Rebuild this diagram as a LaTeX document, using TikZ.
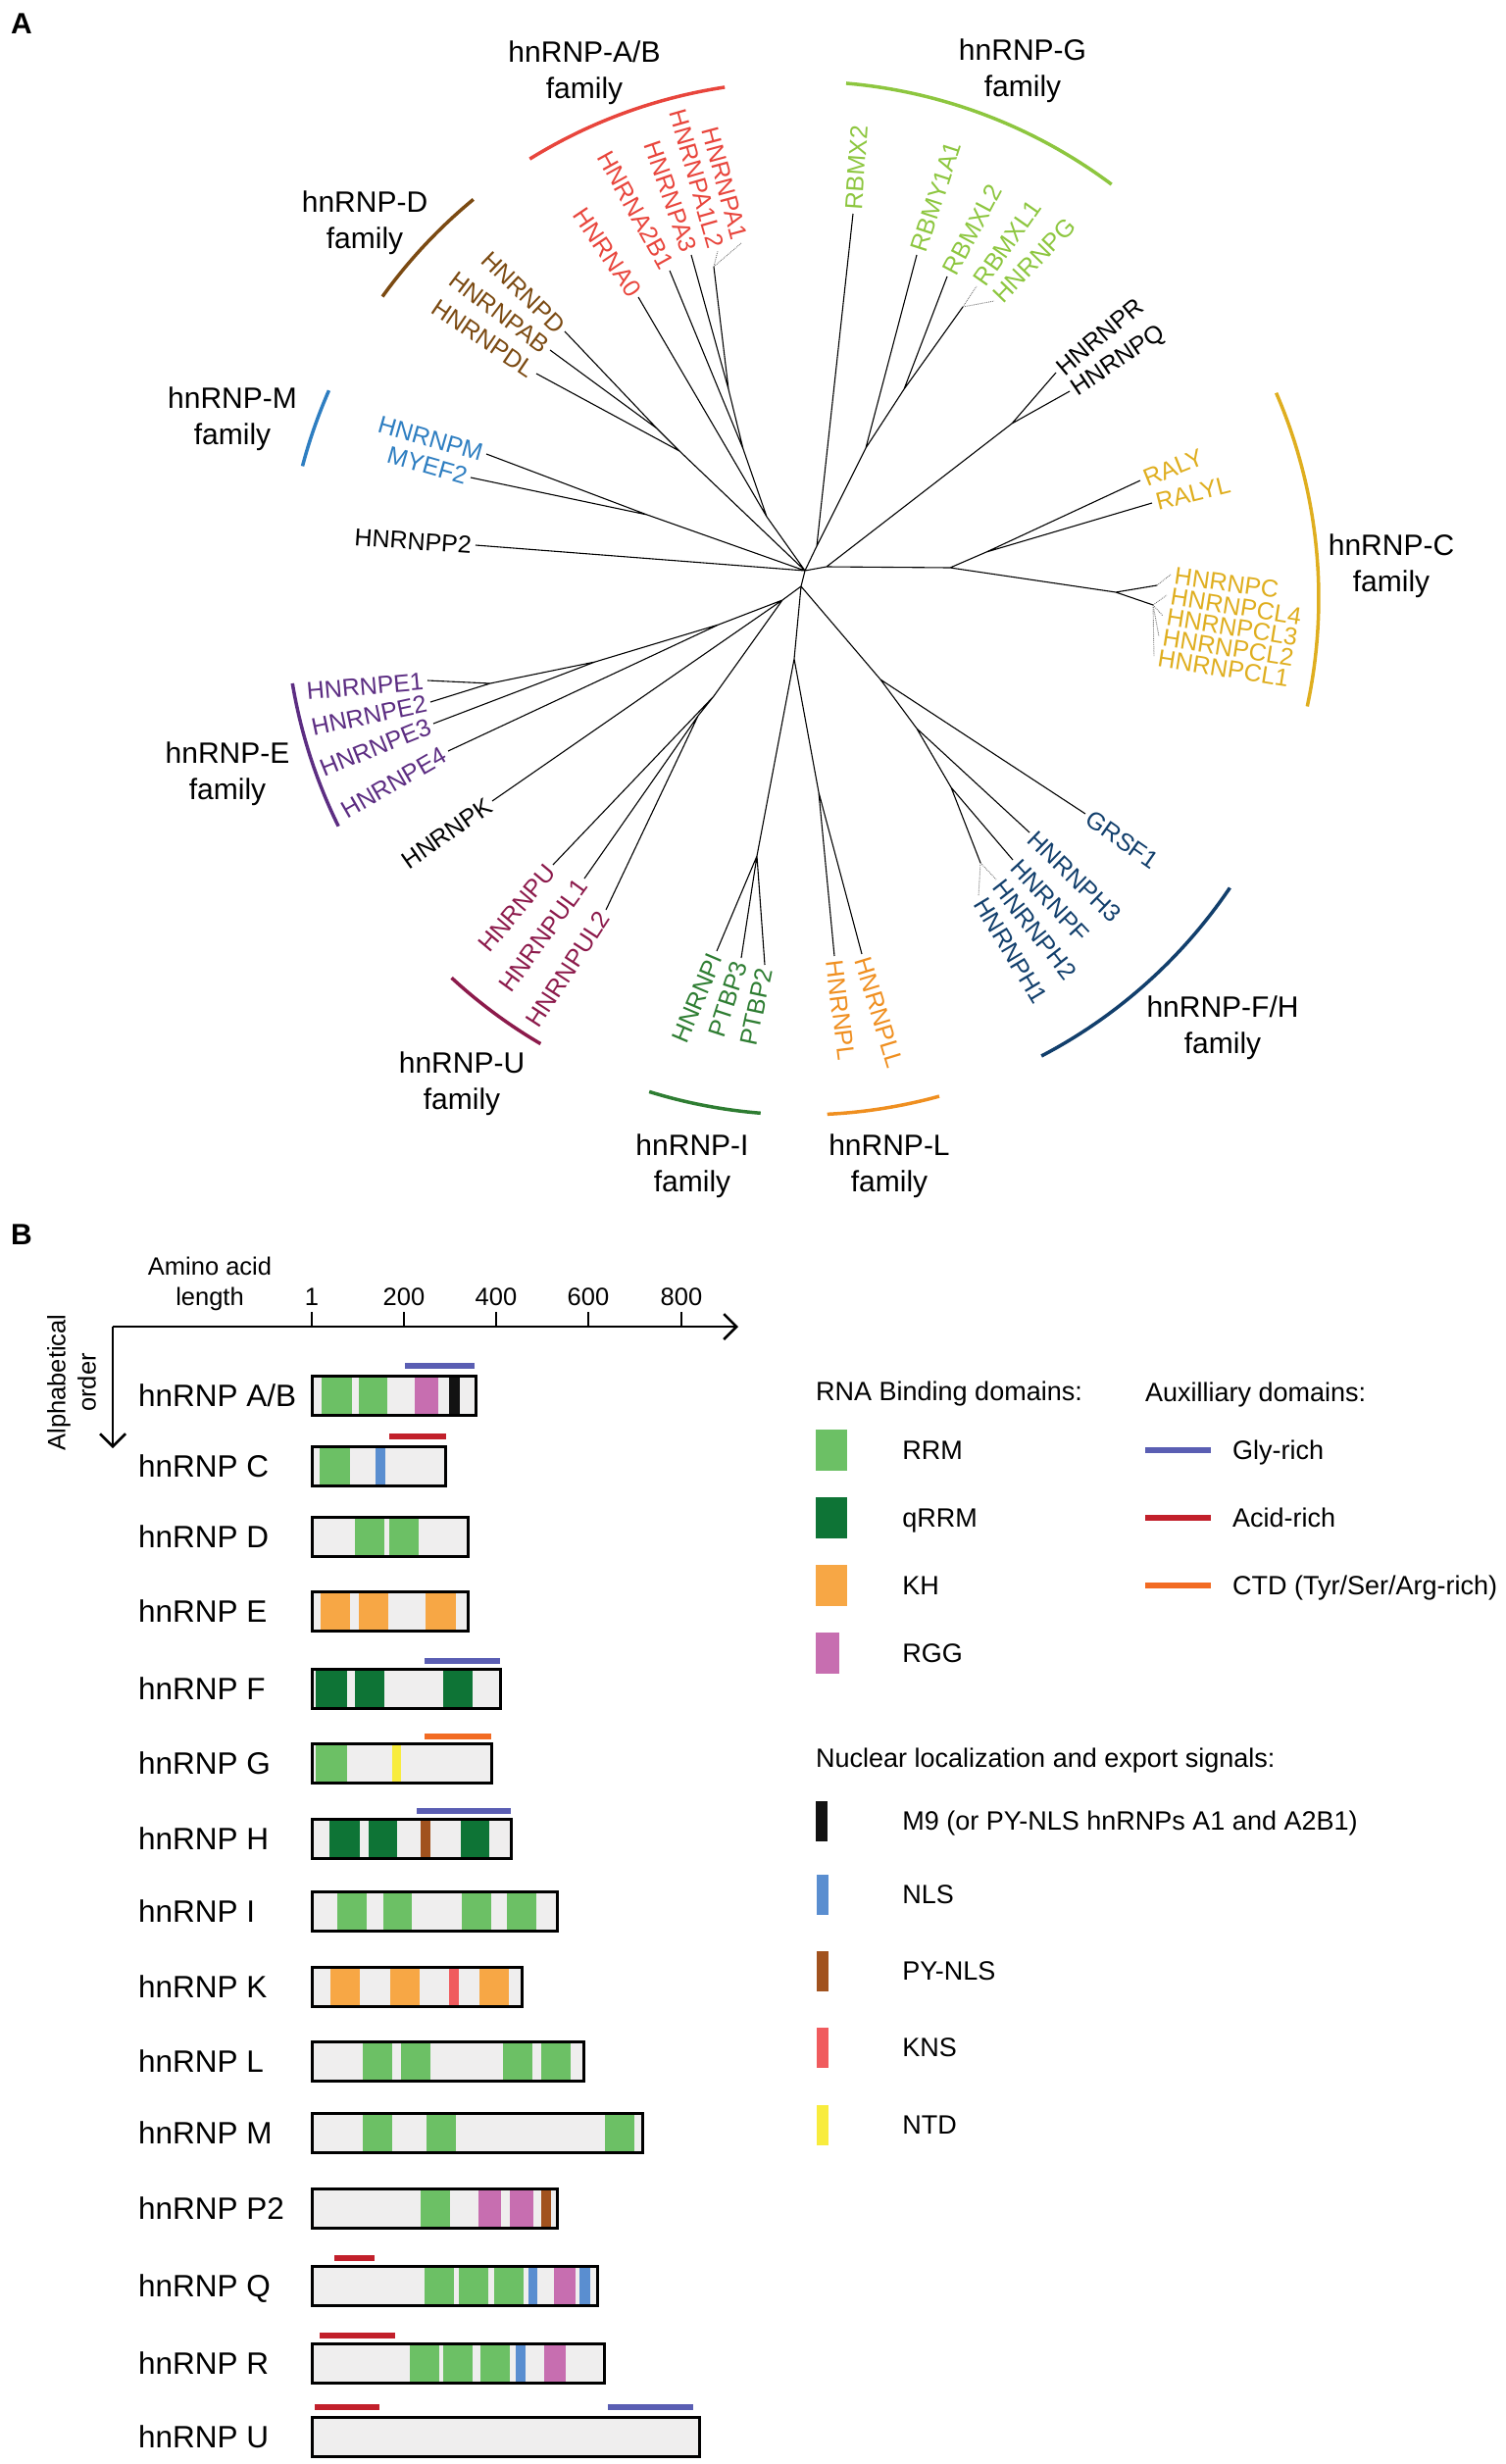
\documentclass[tikz,border=0pt]{standalone}
\usepackage{fontspec}
\setmainfont{Liberation Sans}
\usetikzlibrary{arrows.meta,positioning}

\definecolor{abred}{HTML}{E8453C}
\definecolor{glime}{HTML}{8DC63F}
\definecolor{dbrown}{HTML}{7B4A12}
\definecolor{mblue}{HTML}{2E7EC1}
\definecolor{cgold}{HTML}{DFAE1F}
\definecolor{epurple}{HTML}{5C2D82}
\definecolor{umaroon}{HTML}{8C1A4B}
\definecolor{igreen}{HTML}{2E7D32}
\definecolor{lorange}{HTML}{EF8F20}
\definecolor{fhnavy}{HTML}{123F6C}
\definecolor{rrm}{HTML}{6CC065}
\definecolor{qrrm}{HTML}{0E7436}
\definecolor{kh}{HTML}{F7A745}
\definecolor{rgg}{HTML}{C76EB0}
\definecolor{mnine}{HTML}{121212}
\definecolor{nls}{HTML}{5A8ED0}
\definecolor{pynls}{HTML}{A1521E}
\definecolor{kns}{HTML}{F05B5E}
\definecolor{ntd}{HTML}{F8EC3D}
\definecolor{glyrich}{HTML}{5A5EB3}
\definecolor{acidrich}{HTML}{C2202B}
\definecolor{ctd}{HTML}{F26B23}
\definecolor{boxgray}{HTML}{EFEEEE}

\newcommand\leaffont{\fontsize{25}{29}\selectfont}
\newcommand\famfont{\fontsize{30}{37}\selectfont}
\newcommand\rowfont{\fontsize{31.5}{36}\selectfont}
\newcommand\axfont{\fontsize{25.5}{31}\selectfont}
\newcommand\legfont{\fontsize{27}{32}\selectfont}
\newcommand\panelfont{\fontsize{30}{30}\selectfont\bfseries}

\tikzset{
  branch/.style={line width=1.1pt},
  leader/.style={line width=0.9pt, black!55, densely dotted},
  leafE/.style={font=\leaffont, text height=18pt, text depth=0pt, inner sep=4pt, anchor=east},
  leafW/.style={font=\leaffont, text height=18pt, text depth=0pt, inner sep=4pt, anchor=west},
  family/.style={font=\famfont, align=center},
  famarc/.style={line width=3.5pt},
  protbox/.style={line width=3pt},
  auxbar/.style={line width=5.5pt},
  rowlabel/.style={font=\rowfont, anchor=west, text height=22pt, text depth=0pt, inner sep=0pt},
  legtext/.style={font=\legfont, text height=19pt, text depth=0pt, inner sep=0pt},
  swatch/.style={minimum width=32pt, minimum height=42pt, inner sep=0pt},
  sigswatch/.style={minimum width=12pt, minimum height=41pt, inner sep=0pt},
  axis/.style={line width=2.5pt},
}

\begin{document}
\begin{tikzpicture}[x=1pt, y=-1pt]
\useasboundingbox (0,0) rectangle (1535,2513);

\node[font=\panelfont] (pa) at (22,24) {A};

% inner nodes of the tree
\coordinate (ctr) at (818,610);
\coordinate (c1) at (821,582);
\coordinate (c2) at (817,598);
\coordinate (ab0) at (782,527);
\coordinate (ab1) at (758,458);
\coordinate (ab2) at (743,397);
\coordinate (a1n) at (728,272);
\coordinate (ad) at (693,460);
\coordinate (dsub) at (670,437);
\coordinate (mn) at (660,525);
\coordinate (gr) at (833,557);
\coordinate (gb) at (883,457);
\coordinate (ga) at (922,397);
\coordinate (gn) at (982,313);
\coordinate (rqc) at (843,578);
\coordinate (rq) at (1032,432);
\coordinate (cn) at (969,579);
\coordinate (rn) at (1006,563);
\coordinate (cg) at (1138,604);
\coordinate (ctip) at (1180,597);
\coordinate (cln) at (1176,617);
\coordinate (ek) at (798,612);
\coordinate (ea) at (733,637);
\coordinate (eb) at (607,675);
\coordinate (ec) at (500,697);
\coordinate (un) at (728,710);
\coordinate (u2) at (712,730);
\coordinate (il) at (810,672);
\coordinate (inode) at (772,873);
\coordinate (ln) at (835,808);
\coordinate (fh) at (898,693);
\coordinate (fh2) at (935,743);
\coordinate (fh3) at (970,803);
\coordinate (h12) at (1000,880);

% leaves
\node[leafE, abred, rotate=-56] (a0) at (651,303) {HNRNA0};
\node[leafE, abred, rotate=-61] (a2b1) at (683,276) {HNRNA2B1};
\node[leafE, abred, rotate=-71] (a3) at (705,260) {HNRNPA3};
\node[leafE, abred, rotate=-74] (a1l2) at (732,256) {HNRNPA1L2};
\node[leafE, abred, rotate=-75] (a1) at (756,248) {HNRNPA1};
\node[leafE, dbrown, rotate=-44] (dd) at (576,338) {HNRNPD};
\node[leafE, dbrown, rotate=-37] (dab) at (561,357) {HNRNPAB};
\node[leafE, dbrown, rotate=-34] (ddl) at (547,381) {HNRNPDL};
\node[leafE, mblue, rotate=-16] (mm) at (496,463) {HNRNPM};
\node[leafE, mblue, rotate=-16] (myef) at (480,487) {MYEF2};
\node[leafE, rotate=-4] (p2) at (485,556) {HNRNPP2};
\node[leafW, glime, rotate=86] (rbmx2) at (870,218) {RBMX2};
\node[leafW, glime, rotate=72] (rbmy) at (935,260) {RBMY1A1};
\node[leafW, glime, rotate=62] (rbmxl2) at (966,282) {RBMXL2};
\node[leafW, glime, rotate=55] (rbmxl1) at (996,292) {RBMXL1};
\node[leafW, glime, rotate=46] (hg) at (1014,307) {HNRNPG};
\node[leafW, rotate=40] (hr) at (1077,380) {HNRNPR};
\node[leafW, rotate=34] (hq) at (1091,399) {HNRNPQ};
\node[leafW, cgold, rotate=22] (raly) at (1163,490) {RALY};
\node[leafW, cgold, rotate=14] (ralyl) at (1175,513) {RALYL};
\node[leafW, cgold, rotate=-8] (hc) at (1194,586) {HNRNPC};
\node[leafW, cgold, rotate=-9] (cl4) at (1190,607) {HNRNPCL4};
\node[leafW, cgold, rotate=-9] (cl3) at (1186,628) {HNRNPCL3};
\node[leafW, cgold, rotate=-9] (cl2) at (1182,649) {HNRNPCL2};
\node[leafW, cgold, rotate=-9] (cl1) at (1177,670) {HNRNPCL1};
\node[leafE, epurple, rotate=5] (e1) at (436,694) {HNRNPE1};
\node[leafE, epurple, rotate=12] (e2) at (439,716) {HNRNPE2};
\node[leafE, epurple, rotate=22] (e3) at (442,738) {HNRNPE3};
\node[leafE, epurple, rotate=30] (e4) at (457,766) {HNRNPE4};
\node[leafE, rotate=35] (hk) at (502,817) {HNRNPK};
\node[leafE, umaroon, rotate=50] (hu) at (564,882) {HNRNPU};
\node[leafE, umaroon, rotate=54] (ul1) at (596,896) {HNRNPUL1};
\node[leafE, umaroon, rotate=57] (ul2) at (618,928) {HNRNPUL2};
\node[leafE, igreen, rotate=67] (hi) at (731,970) {HNRNPI};
\node[leafE, igreen, rotate=72] (pt3) at (756,977) {PTBP3};
\node[leafE, igreen, rotate=78] (pt2) at (780,984) {PTBP2};
\node[leafW, lorange, rotate=-83] (hl) at (851,975) {HNRNPL};
\node[leafW, lorange, rotate=-73] (hll) at (879,973) {HNRNPLL};
\node[leafW, fhnavy, rotate=-35] (grsf) at (1107,830) {GRSF1};
\node[leafW, fhnavy, rotate=-44] (h3) at (1050,849) {HNRNPH3};
\node[leafW, fhnavy, rotate=-47] (hf) at (1033,877) {HNRNPF};
\node[leafW, fhnavy, rotate=-52] (h2) at (1016,897) {HNRNPH2};
\node[leafW, fhnavy, rotate=-59] (h1) at (998,914) {HNRNPH1};

% branches
\draw[branch] (c1) -- (c2)
  (c1) -- (ab0) (ab0) -- (a0.east) (ab0) -- (ab1) (ab1) -- (a2b1.east)
  (ab1) -- (ab2) (ab2) -- (a3.east) (ab2) -- (a1n)
  (c1) -- (ad) (ad) -- (dsub) (dsub) -- (dd.east) (dsub) -- (dab.east) (ad) -- (ddl.east)
  (c1) -- (mn) (mn) -- (mm.east) (mn) -- (myef.east)
  (c1) -- (p2.east)
  (c1) -- (gr) (gr) -- (rbmx2.west) (gr) -- (gb) (gb) -- (rbmy.west)
  (gb) -- (ga) (ga) -- (rbmxl2.west) (ga) -- (gn)
  (c1) -- (rqc) (rqc) -- (rq) (rq) -- (hr.west) (rq) -- (hq.west)
  (rqc) -- (cn) (cn) -- (rn) (rn) -- (raly.west) (rn) -- (ralyl.west)
  (cn) -- (cg) (cg) -- (ctip) (cg) -- (cln)
  (c2) -- (ek) (ek) -- (ea) (ea) -- (e4.east) (ea) -- (eb) (eb) -- (e3.east)
  (eb) -- (ec) (ec) -- (e1.east) (ec) -- (e2.east)
  (ek) -- (hk.east)
  (ek) -- (un) (un) -- (hu.east) (un) -- (u2) (u2) -- (ul1.east) (u2) -- (ul2.east)
  (c2) -- (il) (il) -- (inode) (inode) -- (hi.east) (inode) -- (pt3.east) (inode) -- (pt2.east)
  (il) -- (ln) (ln) -- (hl.west) (ln) -- (hll.west)
  (c2) -- (fh) (fh) -- (grsf.west) (fh) -- (fh2) (fh2) -- (h3.west)
  (fh2) -- (fh3) (fh3) -- (hf.west) (fh3) -- (h12);
\draw[leader] (a1n) -- (a1l2.east) (a1n) -- (a1.east)
  (gn) -- (rbmxl1.west) (gn) -- (hg.west)
  (ctip) -- (hc.west) (cln) -- (cl4.west) (cln) -- (cl3.west)
  (cln) -- (cl2.west) (cln) -- (cl1.west)
  (h12) -- (h2.west) (h12) -- (h1.west);

% family arcs and names
\foreach \col/\a/\b in {abred/98.6/121.8, glime/53.2/85.1, dbrown/129.5/144.3,
    mblue/156.3/165.2, epurple/189.5/206.2, umaroon/227.3/239.6, igreen/252.8/265.4,
    lorange/272.8/285.4, fhnavy/297.6/325.9, cgold/-12.1/23.4}
  \draw[famarc, \col] ([shift={(\a:527pt)}]ctr) arc[start angle=\a, end angle=\b, radius=527pt];
\node[family] (famab) at (596,74) {hnRNP-A/B\\family};
\node[family] (famg) at (1043,72) {hnRNP-G\\family};
\node[family] (famd) at (372,227) {hnRNP-D\\family};
\node[family] (famm) at (237,427) {hnRNP-M\\family};
\node[family] (famc) at (1419,577) {hnRNP-C\\family};
\node[family] (fame) at (232,789) {hnRNP-E\\family};
\node[family] (famu) at (471,1105) {hnRNP-U\\family};
\node[family] (fami) at (706,1189) {hnRNP-I\\family};
\node[family] (faml) at (907,1189) {hnRNP-L\\family};
\node[family] (famfh) at (1247,1048) {hnRNP-F/H\\family};

% panel B
\node[font=\panelfont] (pb) at (22,1259) {B};
\coordinate (orig) at (115,1353);
\coordinate (xend) at (753,1353);
\coordinate (yend) at (115,1477);
\draw[axis, -{Straight Barb[length=13pt, width=26pt]}] (orig) -- (xend);
\draw[axis, -{Straight Barb[length=13pt, width=26pt]}] (orig) -- (yend);
\foreach \x/\t in {318/1, 412/200, 506/400, 600/600, 695/800} {
  \draw[axis] (\x,1353) -- (\x,1338);
  \node[font=\axfont] (tick\t) at (\x,1323) {\t};
}
\node[font=\axfont, align=center] (aalen) at (214,1309) {Amino acid\\length};
\node[font=\axfont, align=center, rotate=90] (alpha) at (73,1410) {Alphabetical\\order};

\foreach \y/\e in {1423/485, 1495/454, 1567/477, 1643/477, 1722/510, 1798/501, 1875/521,
    1949/568, 2026/532, 2102/595, 2175/655, 2252/568, 2331/609, 2410/616, 2485/713}
  \fill[boxgray] (318,\y-20) rectangle (\e,\y+20);
\foreach \col/\y/\a/\b in {rrm/1423/328/359, rrm/1423/366/395, rgg/1423/423/447, mnine/1423/458/469,
    rrm/1495/326/357, nls/1495/383/393,
    rrm/1567/362/392, rrm/1567/397/427,
    kh/1643/327/357, kh/1643/366/396, kh/1643/434/465,
    qrrm/1722/322/354, qrrm/1722/362/392, qrrm/1722/452/482,
    rrm/1798/322/354, ntd/1798/400/409,
    qrrm/1875/336/367, qrrm/1875/376/405, pynls/1875/429/439, qrrm/1875/470/499,
    rrm/1949/344/374, rrm/1949/391/420, rrm/1949/471/501, rrm/1949/517/547,
    kh/2026/337/367, kh/2026/398/428, kns/2026/458/468, kh/2026/489/519,
    rrm/2102/370/400, rrm/2102/409/439, rrm/2102/513/543, rrm/2102/552/582,
    rrm/2175/370/400, rrm/2175/435/465, rrm/2175/617/647,
    rrm/2252/429/459, rgg/2252/488/511, rgg/2252/520/544, pynls/2252/552/562,
    rrm/2331/433/463, rrm/2331/468/498, rrm/2331/504/534, nls/2331/539/548, rgg/2331/565/587, nls/2331/591/602,
    rrm/2410/418/448, rrm/2410/452/482, rrm/2410/490/520, nls/2410/526/536, rgg/2410/555/577}
  \fill[\col] (\a,\y-19) rectangle (\b,\y+19);
\foreach \y/\e in {1423/485, 1495/454, 1567/477, 1643/477, 1722/510, 1798/501, 1875/521,
    1949/568, 2026/532, 2102/595, 2175/655, 2252/568, 2331/609, 2410/616, 2485/713}
  \draw[protbox] (318,\y-20) rectangle (\e,\y+20);
\foreach \col/\y/\a/\b in {glyrich/1393/413/484, acidrich/1465/397/455, glyrich/1694/433/510,
    ctd/1771/433/501, glyrich/1847/425/521, acidrich/2303/341/382, acidrich/2382/326/403,
    acidrich/2455/321/387, glyrich/2455/620/707}
  \draw[auxbar, \col] (\a,\y) -- (\b,\y);

\node[rowlabel] (rab) at (141,1423) {hnRNP A/B};
\node[rowlabel] (rc) at (141,1495) {hnRNP C};
\node[rowlabel] (rd) at (141,1567) {hnRNP D};
\node[rowlabel] (re) at (141,1643) {hnRNP E};
\node[rowlabel] (rf) at (141,1722) {hnRNP F};
\node[rowlabel] (rg) at (141,1798) {hnRNP G};
\node[rowlabel] (rh) at (141,1875) {hnRNP H};
\node[rowlabel] (ri) at (141,1949) {hnRNP I};
\node[rowlabel] (rk) at (141,2026) {hnRNP K};
\node[rowlabel] (rl) at (141,2102) {hnRNP L};
\node[rowlabel] (rm) at (141,2175) {hnRNP M};
\node[rowlabel] (rp2) at (141,2252) {hnRNP P2};
\node[rowlabel] (rq2) at (141,2331) {hnRNP Q};
\node[rowlabel] (rr) at (141,2410) {hnRNP R};
\node[rowlabel] (ru) at (141,2485) {hnRNP U};

% legend
\node[legtext, anchor=west] (rbdhead) at (832,1419) {RNA Binding domains:};
\node[legtext, anchor=west] (auxhead) at (1168,1420) {Auxilliary domains:};
\node[swatch, fill=rrm] (krrm) at (848,1479) {};
\node[swatch, fill=qrrm] (kqrrm) at (848,1548) {};
\node[swatch, fill=kh] (kkh) at (848,1617) {};
\node[swatch, fill=rgg, minimum width=24pt] (krgg) at (844,1686) {};
\node[legtext, right=56pt of krrm] (lrrm) {RRM};
\node[legtext, right=56pt of kqrrm] (lqrrm) {qRRM};
\node[legtext, right=56pt of kkh] (lkh) {KH};
\node[legtext, right=64pt of krgg] (lrgg) {RGG};
\coordinate (gly0) at (1168,1479);
\coordinate (gly1) at (1235,1479);
\coordinate (acid0) at (1168,1548);
\coordinate (acid1) at (1235,1548);
\coordinate (ctd0) at (1168,1617);
\coordinate (ctd1) at (1235,1617);
\draw[auxbar, glyrich] (gly0) -- (gly1);
\draw[auxbar, acidrich] (acid0) -- (acid1);
\draw[auxbar, ctd] (ctd0) -- (ctd1);
\node[legtext, right=22pt of gly1] (lgly) {Gly-rich};
\node[legtext, right=22pt of acid1] (lacid) {Acid-rich};
\node[legtext, right=22pt of ctd1] (lctd) {CTD (Tyr/Ser/Arg-rich)};

\node[legtext, anchor=west] (sighead) at (832,1793) {Nuclear localization and export signals:};
\node[sigswatch, fill=mnine] (km9) at (838,1857) {};
\node[sigswatch, fill=nls] (knls) at (839,1932) {};
\node[sigswatch, fill=pynls] (kpy) at (839,2010) {};
\node[sigswatch, fill=kns] (kkns) at (839,2088) {};
\node[sigswatch, fill=ntd] (kntd) at (839,2167) {};
\node[legtext, right=76pt of km9] (lm9) {M9 (or PY-NLS hnRNPs A1 and A2B1)};
\node[legtext, right=75pt of knls] (lnls) {NLS};
\node[legtext, right=75pt of kpy] (lpy) {PY-NLS};
\node[legtext, right=75pt of kkns] (lkns) {KNS};
\node[legtext, right=75pt of kntd] (lntd) {NTD};
\end{tikzpicture}
\end{document}
